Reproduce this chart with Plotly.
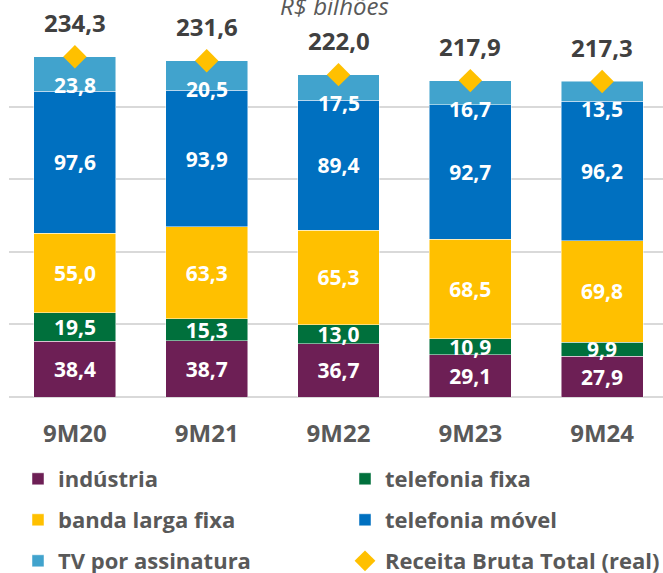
import plotly.graph_objects as go

FONT = "Open Sans"
GRAY = "#595959"
DARK = "#404040"

periods = ["9M20", "9M21", "9M22", "9M23", "9M24"]
industria = [38.4, 38.7, 36.7, 29.1, 27.9]
telefonia_fixa = [19.5, 15.3, 13.0, 10.9, 9.9]
banda_larga = [55.0, 63.3, 65.3, 68.5, 69.8]
telefonia_movel = [97.6, 93.9, 89.4, 92.7, 96.2]
tv_assinatura = [23.8, 20.5, 17.5, 16.7, 13.5]
receita_total = [234.3, 231.6, 222.0, 217.9, 217.3]

segments = [
    ("indústria", industria, "#6D1F55", "legend"),
    ("telefonia fixa", telefonia_fixa, "#00703C", "legend"),
    ("banda larga fixa", banda_larga, "#FFC000", "legend2"),
    ("telefonia móvel", telefonia_movel, "#0070C0", "legend2"),
    ("TV por assinatura", tv_assinatura, "#41A3CD", "legend3"),
]

# plot area in pixels, used to place the legend rows
PLOT_L, PLOT_W = 9, 654
PLOT_T, PLOT_B = 34, 397


def fmt(v):
    return f"{v:.1f}".replace(".", ",")


def px_x(x):
    return (x - PLOT_L) / PLOT_W


def px_y(y):
    return (PLOT_B - y) / (PLOT_B - PLOT_T)


fig = go.Figure()
for name, vals, color, leg in segments:
    is_tv = name == "TV por assinatura"
    fig.add_trace(go.Bar(
        x=periods,
        y=vals,
        name=name,
        marker=dict(color=color, line=dict(color="rgba(255,255,255,0.6)", width=0.8)),
        texttemplate=None if is_tv else "%{y:.1f}",
        textposition="none" if is_tv else "inside",
        insidetextanchor="middle",
        textangle=0,
        constraintext="none",
        textfont=dict(family=FONT, size=21, color="white", weight="bold"),
        legend=leg,
    ))

fig.add_trace(go.Scatter(
    x=periods,
    y=receita_total,
    name="Receita Bruta Total (real)",
    mode="markers",
    marker=dict(symbol="diamond", size=18, color="#FFC000"),
    legend="legend3",
))

# TV labels sit near the top of the bar, totals above it
for p, tot, tv in zip(periods, receita_total, tv_assinatura):
    fig.add_annotation(x=p, y=tot, text=fmt(tv), showarrow=False, yshift=-28,
                       font=dict(family=FONT, size=21, color="white", weight="bold"))
    fig.add_annotation(x=p, y=tot, text=fmt(tot), showarrow=False, yshift=34,
                       font=dict(family=FONT, size=24, color=DARK, weight="bold"))

fig.add_annotation(text="<i>R$ bilhões</i>", xref="paper", yref="paper",
                   x=0.498, y=1.028, yanchor="bottom", showarrow=False,
                   font=dict(family=FONT, size=24, color=GRAY))

legend_common = dict(
    orientation="h", yanchor="middle", xanchor="left",
    entrywidth=282, entrywidthmode="pixels",
    font=dict(family=FONT, size=22, color=GRAY, weight="bold"),
    bgcolor="rgba(0,0,0,0)", itemsizing="trace", traceorder="normal",
)

fig.update_layout(
    width=663,
    height=573,
    autosize=False,
    template="plotly_white",
    separators=",.",
    barmode="stack",
    bargap=0.378,
    margin=dict(l=PLOT_L, r=0, t=PLOT_T, b=573 - PLOT_B, autoexpand=False),
    paper_bgcolor="white",
    plot_bgcolor="white",
    showlegend=True,
    legend=dict(x=px_x(18), y=px_y(479), **legend_common),
    legend2=dict(x=px_x(18), y=px_y(520), **legend_common),
    legend3=dict(x=px_x(18), y=px_y(561), **legend_common),
    font=dict(family=FONT, color=GRAY),
)
fig.update_xaxes(
    range=[-0.5, 4.462],
    showgrid=False,
    showline=False,
    ticks="",
    ticklabelstandoff=20,
    tickfont=dict(family=FONT, size=24, color=GRAY, weight="bold"),
)
fig.update_yaxes(
    range=[0, 250],
    dtick=50,
    showticklabels=False,
    showgrid=True,
    gridcolor="#D9D9D9",
    gridwidth=2,
    zeroline=True,
    zerolinecolor="#D9D9D9",
    zerolinewidth=2,
)

# drop the page's default 8px body margin so the figure fills the window
fig.write_html(
    "out.html",
    config={"displayModeBar": False},
    post_script="document.body.style.margin = '0';",
)
